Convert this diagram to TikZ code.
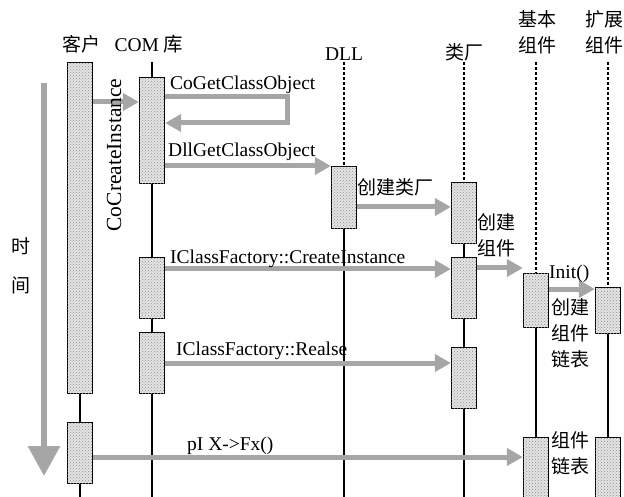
\documentclass[tikz,border=0pt]{standalone}
\usepackage{fontspec}
\setmainfont{Liberation Serif}
\newfontfamily\cjk{Noto Sans CJK SC}
\usetikzlibrary{arrows.meta, patterns}

\begin{document}
\begin{tikzpicture}[x=1pt, y=-1pt,
    every node/.style={font=\fontsize{19.5}{26}\selectfont, inner sep=0pt},
    bar/.style={draw, line width=1.3pt, fill=gray!20,
      postaction={pattern=crosshatch dots, pattern color=gray!90},
      minimum width=25pt, anchor=north},
    life/.style={line width=1.3pt},
    lifedash/.style={line width=1.3pt, dash pattern=on 3pt off 2pt},
    msg/.style={-{Triangle[length=16pt, width=17pt]}, line width=5pt,
      draw=gray!70, line join=miter},
    zh/.style={font=\fontsize{19}{26}\selectfont\cjk, align=left}]

  \useasboundingbox (0,0) rectangle (624,497);
  \clip (0,0) rectangle (624,497);

  \node[zh] (hcl) at (81,44) {客户};
  \node (hcom) at (149,44) {COM {\cjk 库}};
  \node (hdll) at (344,54) {DLL};
  \node[zh] (hfac) at (464,52) {类厂};
  \node[zh, align=center] (hbas) at (537,32) {基本\\组件};
  \node[zh, align=center] (hext) at (604,32) {扩展\\组件};

  \foreach \n/\x in {cl/80, com/152, dll/344, fac/464, bas/536, ext/608} {
    \coordinate (\n top) at (\x,62);
    \coordinate (\n end) at (\x,497);
  }

  \foreach \n/\x/\t/\h in {cl1/80/62/331, cl2/80/422/61,
      com1/152/77/106, com2/152/257/61, com3/152/332/61,
      dll1/344/166/62, fac1/464/182/61, fac2/464/257/61, fac3/464/347/61,
      bas1/536/273/54, bas2/536/437/80, ext1/608/287/46, ext2/608/437/80}
    \node[bar, minimum height=\h pt] (\n) at (\x,\t) {};

  \draw[life] (cl1.south) -- (cl2.north) (cl2.south) -- (clend);
  \draw[life] (comtop) -- (com1.north) (com1.south) -- (com2.north)
    (com2.south) -- (com3.north) (com3.south) -- (comend);
  \draw[lifedash] (dlltop) -- (dll1.north);
  \draw[life] (dll1.south) -- (dllend);
  \draw[lifedash] (factop) -- (fac1.north);
  \draw[life] (fac1.south) -- (fac2.north) (fac2.south) -- (fac3.north)
    (fac3.south) -- (facend);
  \draw[lifedash] (bastop) -- (bas1.north);
  \draw[life] (bas1.south) -- (bas2.north);
  \draw[lifedash] (exttop) -- (ext1.north);
  \draw[life] (ext1.south) -- (ext2.north);

  \coordinate (t0) at (44,83);
  \coordinate (t1) at (44,476);
  \draw[-{Triangle[length=30pt, width=31pt]}, line width=6pt, gray!70] (t0) -- (t1);
  \node[zh] (tshi) at (21,246) {时};
  \node[zh] (tjian) at (21,285) {间};

  \draw[msg] (cl1.east |- 0,102) -- (com1.west |- 0,102);
  \node[rotate=90, font=\fontsize{21.5}{26}\selectfont] (lcci) at (114,155) {CoCreateInstance};

  \draw[msg] (com1.east |- 0,97) -- (287,97) -- (287,123) -- (com1.east |- 0,123);
  \node[anchor=base west] (lcgo) at (170,90) {CoGetClassObject};

  \draw[msg] (com1.east |- 0,166) -- (dll1.west |- 0,166);
  \node[anchor=base west] (ldgo) at (168,157) {DllGetClassObject};

  \draw[msg] (dll1.east |- 0,207) -- (fac1.west |- 0,207);
  \node[zh, anchor=west] (lcjlc) at (357,187) {创建类厂};
  \node[zh, anchor=west] (lcjzj) at (477,235) {创建\\组件};

  \draw[msg] (com2.east |- 0,269) -- (fac2.west |- 0,269);
  \node[anchor=base west] (lcin) at (170,263) {IClassFactory::CreateInstance};

  \draw[msg] (fac2.east |- 0,268) -- (bas1.west |- 0,268);

  \draw[msg] (bas1.east |- 0,289) -- (ext1.west |- 0,289);
  \node[anchor=base west] (linit) at (549,279) {Init()};
  \node[zh, anchor=west] (lcjlb) at (551,333) {创建\\组件\\链表};

  \draw[msg] (com3.east |- 0,363) -- (fac3.west |- 0,363);
  \node[anchor=base west] (lrel) at (176,355) {IClassFactory::Realse};

  \draw[msg] (cl2.east |- 0,457) -- (bas2.west |- 0,457);
  \node[anchor=base west] (lfx) at (187,450) {pI X-{}>Fx()};
  \node[zh, anchor=west] (lzjlb) at (551,453) {组件\\链表};
\end{tikzpicture}
\end{document}
